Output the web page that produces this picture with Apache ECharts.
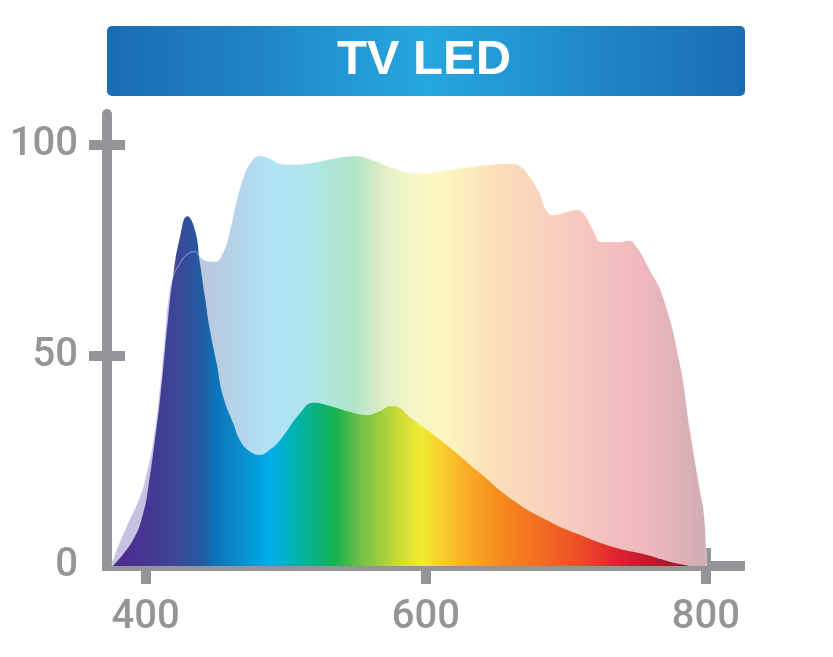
<!DOCTYPE html>
<html><head><meta charset="utf-8">
<script src="https://cdn.jsdelivr.net/npm/echarts@6/dist/echarts.min.js"></script>
<style>html,body{margin:0;padding:0;background:#fff}#c{width:833px;height:657px}</style>
</head><body><div id="c"></div>
<script>
const titleText = 'TV LED';
const xTickValues = [400, 600, 800];
const yTickValues = [50, 100];
const yLabelValues = [0, 50, 100];

// Background (broad, pastel) spectrum
const bgWavelength = [376, 376.7, 386.2, 395.9, 400.6, 405.4, 410.2, 413.8, 416.1, 419.5, 424.5, 429.2, 435.2, 438.8, 443, 449.5, 455, 460, 465, 470, 475, 481.6, 488.7, 495.9, 505, 514.9, 524, 534, 548.2, 562.5, 574.4, 593.4, 617.2, 641, 662.2, 668.2, 674.1, 681.3, 686, 690.8, 697.9, 707.5, 712.4, 719.5, 725.5, 736.2, 744.5, 750.5, 760, 769.3, 781.4, 788.6, 794.5, 799.3, 800.3];
const bgValue = [0, 1.4, 9.3, 16.5, 22.0, 29.9, 42.6, 55.3, 63.2, 68.7, 71.9, 73.9, 74.7, 73.5, 72.6, 72.3, 74.3, 79.5, 86.8, 92.5, 95.8, 97.4, 96.8, 95.6, 95.4, 95.6, 96.1, 96.8, 97.4, 96.4, 94.8, 93.3, 94.1, 95.2, 95.6, 94.8, 92.5, 88.5, 84.6, 83.4, 83.9, 84.6, 83.8, 79.8, 77.0, 77.0, 77.3, 75.8, 70.3, 64.0, 48.1, 32.3, 20.4, 10.0, 0];

// Foreground (TV LED) spectrum
const fgWavelength = [376.5, 391, 398.3, 401.9, 406.6, 410.2, 413.8, 416.1, 419.5, 424.5, 429.7, 435.2, 438.8, 442.3, 445.9, 450.7, 455.4, 462.5, 467.3, 474, 481.6, 488.5, 495.9, 510.2, 519.7, 534, 546, 557.8, 566, 575.6, 591, 615, 638.6, 662, 686.4, 710, 733.6, 757.9, 774.3, 788.6];
const fgValue = [0, 6.2, 12.6, 18.8, 29.9, 39.4, 51.3, 59.1, 68.7, 78.2, 83.1, 79.8, 71.9, 64.0, 56.1, 48.2, 40.2, 33.9, 29.9, 27.3, 26.4, 27.6, 29.9, 36.3, 38.8, 37.8, 36.6, 35.9, 36.6, 38.0, 34.7, 28.7, 22.1, 15.7, 10.9, 7.4, 4.5, 2.6, 1.0, 0];

// Colour stops along wavelength
const fgColorNm = [376, 400, 424.5, 442.4, 449.5, 467.3, 488.7, 506.6, 535, 553, 581.5, 597, 624, 652.7, 681.3, 710, 738.5, 767, 789];
const fgColors = ['#4a2a8c', '#483593', '#3a4898', '#1f5fa4', '#0b74b8', '#0a8ccc', '#00aee8', '#00b1b2', '#14b24f', '#70bf45', '#cddc35', '#f3eb33', '#f9b528', '#f68a1f', '#f36d22', '#ec4f27', '#de2030', '#b01a2c', '#9a1a2c'];
const bgColorNm = [376, 410, 424.5, 440, 449.5, 467, 485, 499.5, 517, 535, 549, 567, 588, 610, 652.7, 688.6, 724, 753, 781.4, 800.3];
const bgColors = ['#c8c1e1', '#c6c2e0', '#c0c4e0', '#bcc8e0', '#b8cbe2', '#b4d4ea', '#b0e0f3', '#aee4f6', '#b0e6ea', '#b0e5d8', '#b0e4c8', '#dceec6', '#f2f5c6', '#fdf8c0', '#fbddb9', '#f9d1bd', '#f5c2c0', '#f1b8be', '#dcb2b8', '#d0acb3'];

function pairs(xs, ys) { return xs.map((x, i) => [x, ys[i]]); }
function gradient(nms, cols, xs) {
  const lo = xs[0], hi = xs[xs.length - 1];
  return {
    type: 'linear', x: 0, y: 0, x2: 1, y2: 0,
    colorStops: nms.map((n, i) => ({ offset: Math.min(1, Math.max(0, (n - lo) / (hi - lo))), color: cols[i] }))
  };
}

const gray = '#939598';
const font = 'Roboto, Liberation Sans, Arial, sans-serif';
const xMin = 372.4, xMax = 824.3, yMin = 0, yMax = 107.4;

const chart = echarts.init(document.getElementById('c'), null, { renderer: 'canvas' });
chart.setOption({
  animation: false,
  backgroundColor: '#ffffff',
  title: {
    text: titleText, left: 424, top: 36, textAlign: 'center', padding: 0, z: 10,
    textStyle: { color: '#ffffff', fontSize: 49, fontWeight: 'bold', fontFamily: 'Liberation Sans, Arial, sans-serif' }
  },
  graphic: [{
    type: 'rect', z: 0, silent: true,
    shape: { x: 107, y: 26, width: 638, height: 70, r: 5 },
    style: {
      fill: new echarts.graphic.LinearGradient(0, 0, 1, 0, [
        { offset: 0, color: '#1a6cb3' },
        { offset: 0.2, color: '#1f80c4' },
        { offset: 0.5, color: '#25a7e0' },
        { offset: 0.8, color: '#1f82c6' },
        { offset: 1, color: '#1a6db5' }
      ])
    }
  }],
  grid: { left: 107, right: 93, top: 114, bottom: 91 },
  xAxis: [{
    type: 'value', position: 'bottom', min: xMin, max: xMax,
    axisLine: { show: true, onZero: false, lineStyle: { color: gray, width: 10, cap: 'square' } },
    axisTick: { show: true, customValues: xTickValues, length: 18, lineStyle: { color: gray, width: 10 } },
    axisLabel: { customValues: xTickValues, margin: 32, fontSize: 40, fontWeight: 500, color: gray, fontFamily: font },
    splitLine: { show: false }
  }, {
    type: 'value', position: 'bottom', min: xMin, max: xMax,
    axisLine: { show: false, onZero: false },
    axisTick: { show: true, inside: true, customValues: xTickValues, length: 18, lineStyle: { color: gray, width: 10 } },
    axisLabel: { show: false },
    splitLine: { show: false }
  }],
  yAxis: [{
    type: 'value', position: 'left', min: yMin, max: yMax,
    axisLine: { show: true, onZero: false, lineStyle: { color: gray, width: 10 } },
    axisTick: { show: true, customValues: yTickValues, length: 18, lineStyle: { color: gray, width: 10 } },
    axisLabel: { customValues: yLabelValues, margin: 29, fontSize: 40, fontWeight: 500, color: gray, fontFamily: font },
    splitLine: { show: false }
  }, {
    type: 'value', position: 'left', min: yMin, max: yMax,
    axisLine: { show: false, onZero: false },
    axisTick: { show: true, inside: true, customValues: yTickValues, length: 18, lineStyle: { color: gray, width: 10 } },
    axisLabel: { show: false },
    splitLine: { show: false }
  }],
  series: [{
    name: 'Background', type: 'line', xAxisIndex: 0, yAxisIndex: 0,
    data: pairs(bgWavelength, bgValue), smooth: 0.5,
    symbol: 'none', lineStyle: { width: 0 }, z: 1,
    areaStyle: { color: gradient(bgColorNm, bgColors, bgWavelength), opacity: 1 }
  }, {
    name: 'TV LED', type: 'line', xAxisIndex: 0, yAxisIndex: 0,
    data: pairs(fgWavelength, fgValue), smooth: 0.5,
    symbol: 'none', lineStyle: { width: 0 }, z: 2,
    areaStyle: { color: gradient(fgColorNm, fgColors, fgWavelength), opacity: 1 }
  }, {
    name: 'Outline', type: 'line', xAxisIndex: 0, yAxisIndex: 0,
    data: pairs(bgWavelength, bgValue), smooth: 0.5,
    symbol: 'none', silent: true, z: 3,
    lineStyle: { width: 1, color: 'rgba(255,255,255,0.45)' }
  }]
});
</script></body></html>
